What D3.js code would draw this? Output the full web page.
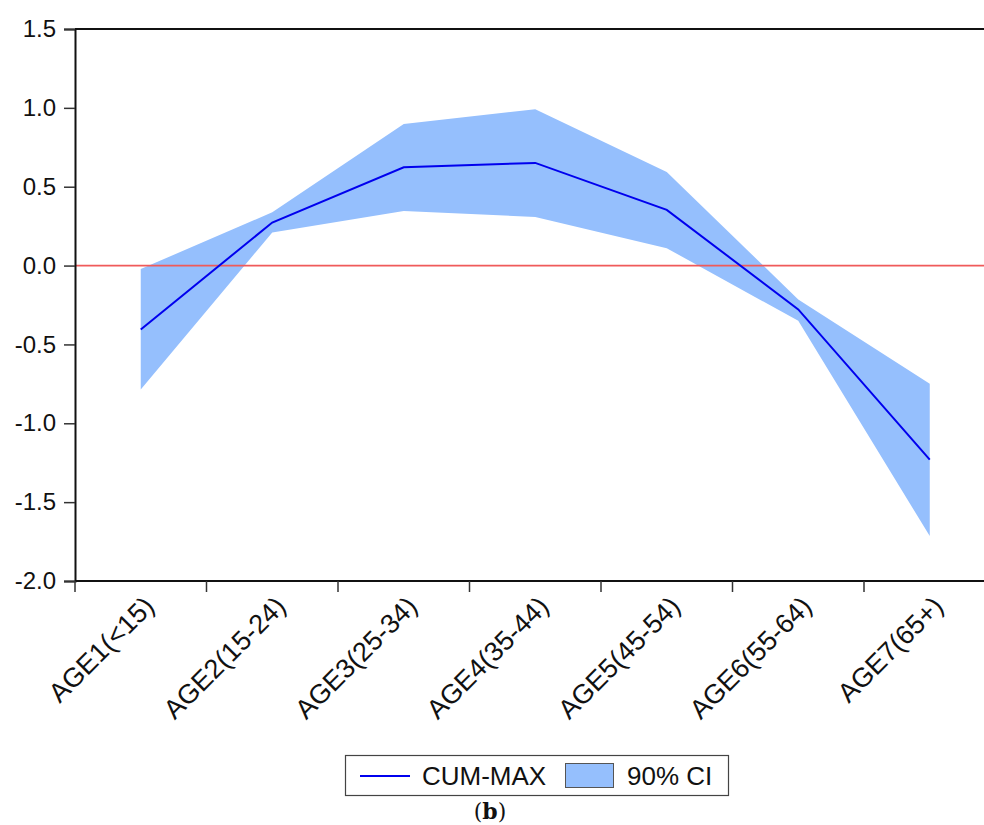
<!DOCTYPE html>
<html>
<head>
<meta charset="utf-8">
<script src="https://cdn.jsdelivr.net/npm/d3@7"></script>
<style>
  html, body { margin: 0; padding: 0; background: #fff; }
  svg { display: block; }
</style>
</head>
<body>
<div id="chart"></div>
<script>
const categories = ["AGE1(<15)", "AGE2(15-24)", "AGE3(25-34)", "AGE4(35-44)", "AGE5(45-54)", "AGE6(55-64)", "AGE7(65+)"]
const cumMax = [-0.405, 0.273, 0.623, 0.651, 0.353, -0.278, -1.23]
const ciUpper = [-0.022, 0.338, 0.898, 0.991, 0.593, -0.215, -0.75]
const ciLower = [-0.785, 0.21, 0.346, 0.308, 0.11, -0.35, -1.715]
const yTicks = [-2.0, -1.5, -1.0, -0.5, 0.0, 0.5, 1.0, 1.5]

const width = 984
const height = 825
const margin = { left: 75, top: 29, bottom: 581 }
const bandW = 131.5
const sans = "'Liberation Sans', Arial, sans-serif"

const svg = d3.select("#chart").append("svg")
  .attr("width", width)
  .attr("height", height)
  .style("font-family", sans)

const x = d3.scaleBand()
  .domain(categories)
  .range([margin.left, margin.left + bandW * categories.length])
  .padding(0)
const y = d3.scaleLinear().domain([-2, 1.5]).range([margin.bottom, margin.top])
const cx = d => x(d) + x.bandwidth() / 2

const rows = categories.map((c, i) => ({ c, v: cumMax[i], hi: ciUpper[i], lo: ciLower[i] }))

// confidence band
svg.append("path")
  .datum(rows)
  .attr("fill", "#95bffd")
  .attr("d", d3.area().x(d => cx(d.c)).y0(d => y(d.lo)).y1(d => y(d.hi)))

// zero line
svg.append("line")
  .attr("x1", margin.left).attr("x2", width)
  .attr("y1", y(0)).attr("y2", y(0))
  .attr("stroke", "#f05a5a").attr("stroke-width", 1.8)

// estimate line
svg.append("path")
  .datum(rows)
  .attr("fill", "none")
  .attr("stroke", "#0000ee")
  .attr("stroke-width", 2)
  .attr("d", d3.line().x(d => cx(d.c)).y(d => y(d.v)))

// top frame
svg.append("line")
  .attr("x1", margin.left).attr("x2", width)
  .attr("y1", margin.top).attr("y2", margin.top)
  .attr("stroke", "#111").attr("stroke-width", 2)

// y axis
const yAxis = svg.append("g")
  .attr("transform", `translate(${margin.left},0)`)
  .call(d3.axisLeft(y).tickValues(yTicks).tickFormat(d => d.toFixed(1)).tickSize(11).tickPadding(8))
yAxis.select(".domain").attr("stroke", "#111").attr("stroke-width", 2)
yAxis.selectAll(".tick line").attr("stroke", "#333").attr("stroke-width", 1.5)
yAxis.selectAll("text").attr("font-size", 24).attr("fill", "#111").attr("font-family", sans)

// x axis, ticks on band edges
const xAxis = svg.append("g").attr("transform", `translate(0,${margin.bottom})`)
xAxis.append("line")
  .attr("x1", margin.left).attr("x2", width)
  .attr("stroke", "#111").attr("stroke-width", 2)
xAxis.selectAll("line.edge")
  .data(categories)
  .join("line")
  .attr("class", "edge")
  .attr("x1", d => x(d)).attr("x2", d => x(d))
  .attr("y1", 0).attr("y2", 11)
  .attr("stroke", "#333").attr("stroke-width", 1.5)
xAxis.selectAll("text")
  .data(categories)
  .join("text")
  .attr("transform", d => `translate(${cx(d) + 15},${27}) rotate(-45)`)
  .attr("text-anchor", "end")
  .attr("font-size", 27)
  .attr("fill", "#111")
  .text(d => d)

// legend
const lg = svg.append("g")
lg.append("rect")
  .attr("x", 345.5).attr("y", 755.5).attr("width", 383).attr("height", 40)
  .attr("fill", "#fff").attr("stroke", "#444").attr("stroke-width", 1.2)
lg.append("line")
  .attr("x1", 360).attr("x2", 410).attr("y1", 776).attr("y2", 776)
  .attr("stroke", "#0000ee").attr("stroke-width", 2)
lg.append("text")
  .attr("x", 422).attr("y", 785)
  .attr("font-size", 26).attr("fill", "#111")
  .text("CUM-MAX")
lg.append("rect")
  .attr("x", 565.5).attr("y", 763.5).attr("width", 48).attr("height", 24)
  .attr("fill", "#95bffd").attr("stroke", "#555").attr("stroke-width", 1)
lg.append("text")
  .attr("x", 627).attr("y", 785)
  .attr("font-size", 26).attr("fill", "#111")
  .text("90% CI")

// panel label
const cap = svg.append("text")
  .attr("x", 490).attr("y", 819)
  .attr("text-anchor", "middle")
  .attr("font-size", 22)
  .attr("font-family", "'DejaVu Serif', 'Liberation Serif', serif")
  .attr("fill", "#111")
cap.append("tspan").text("(")
cap.append("tspan").attr("font-weight", "bold").text("b")
cap.append("tspan").text(")")
</script>
</body>
</html>
